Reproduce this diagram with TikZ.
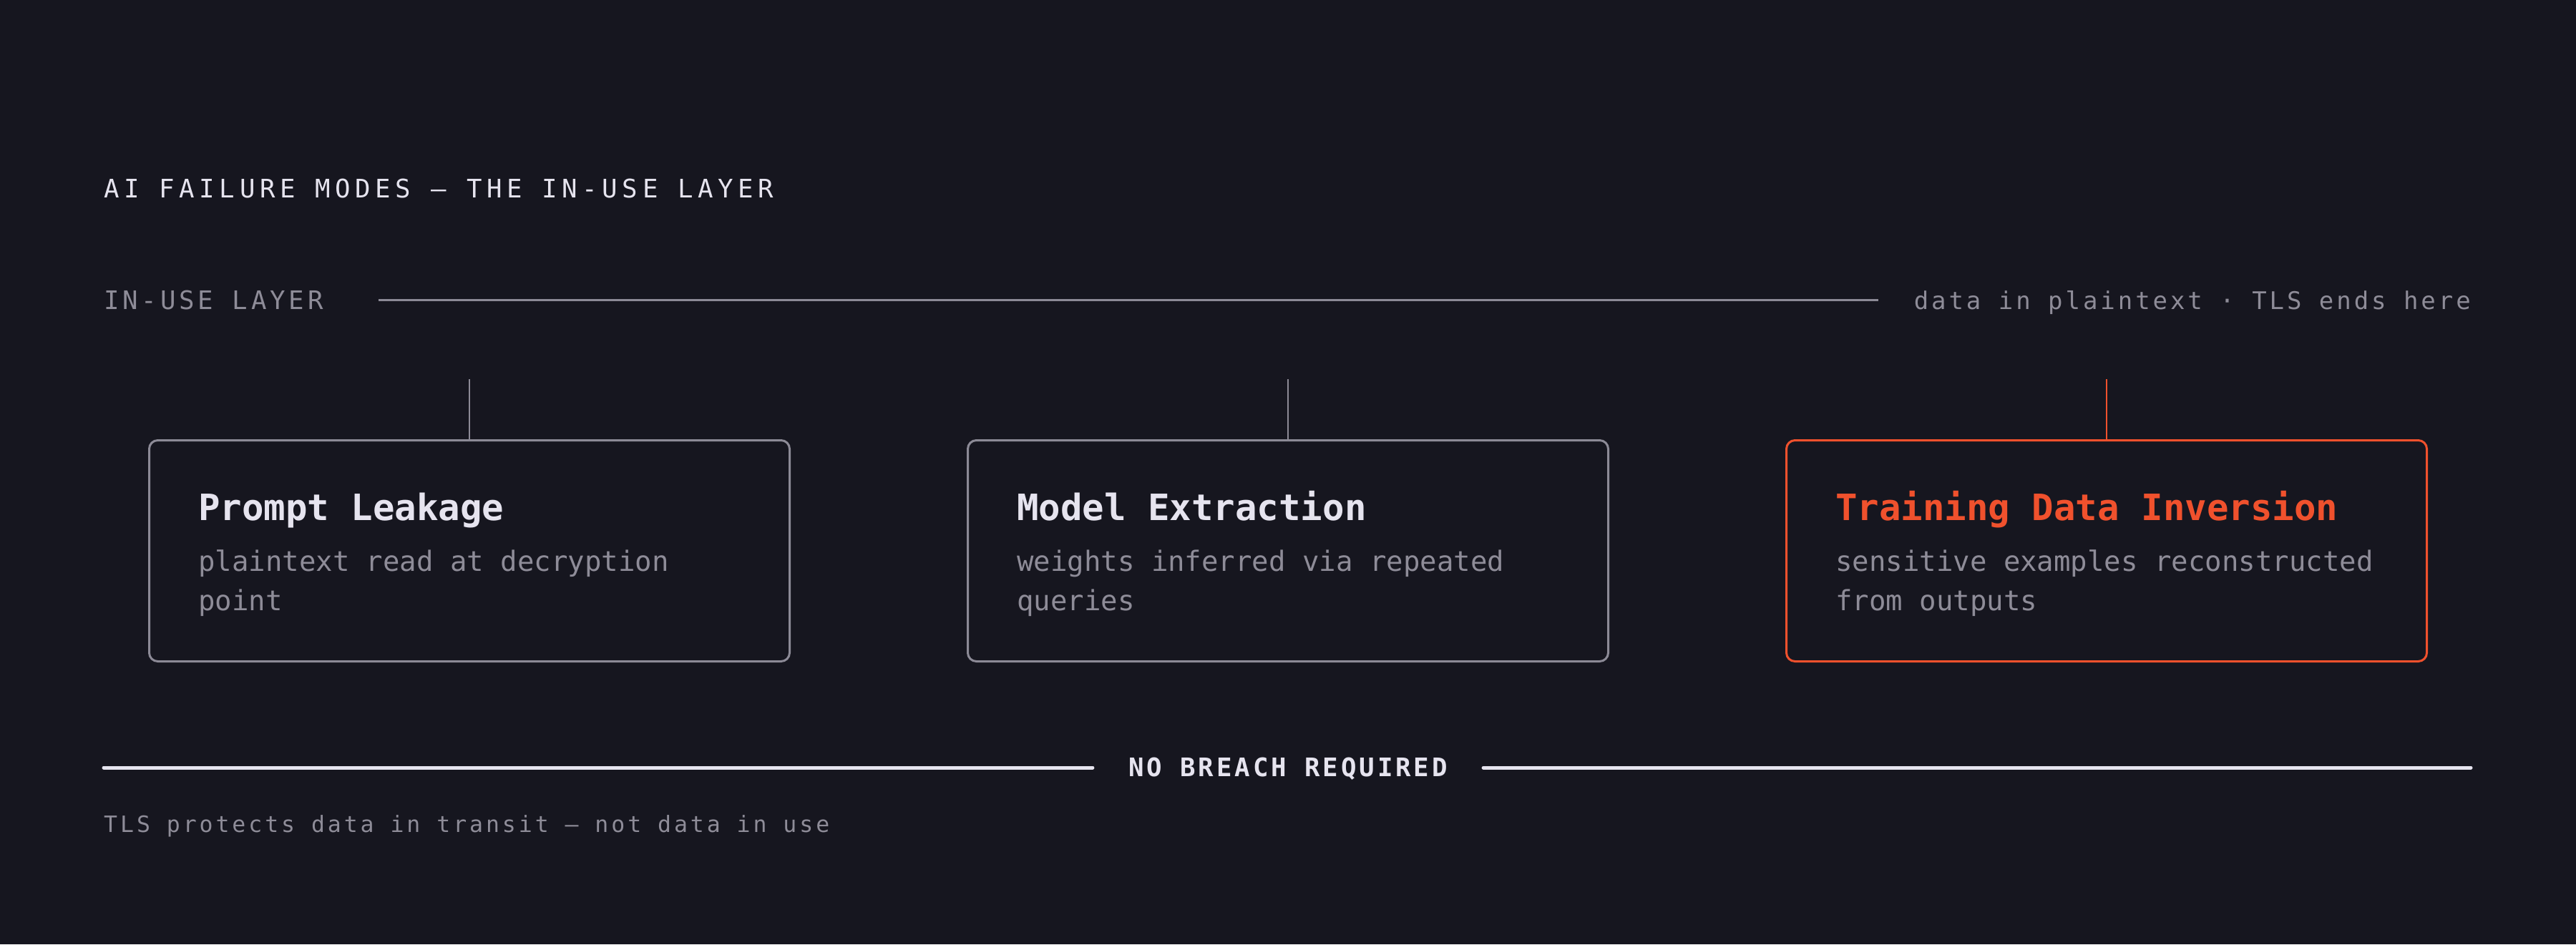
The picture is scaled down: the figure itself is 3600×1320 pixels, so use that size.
\documentclass[tikz,border=0pt]{standalone}
\usepackage{fontspec}
\setmonofont{DejaVu Sans Mono}
\usetikzlibrary{positioning}

\definecolor{bg}{HTML}{16161F}
\definecolor{ink}{HTML}{E6E4EF}
\definecolor{mute}{HTML}{8E8C98}
\definecolor{rule}{HTML}{8C8A96}
\definecolor{alert}{HTML}{F0512D}

\newfontfamily\headfont[LetterSpace=18.4]{DejaVu Sans Mono}
\newfontfamily\layerfont[LetterSpace=13.6]{DejaVu Sans Mono}
\newfontfamily\notefont[LetterSpace=11.6]{DejaVu Sans Mono}
\newfontfamily\breachfont[LetterSpace=11]{DejaVu Sans Mono}
\newfontfamily\capfont[LetterSpace=12.5]{DejaVu Sans Mono}

\begin{document}
\begin{tikzpicture}[x=1pt, y=-1pt, every node/.style={inner sep=0pt},
	modebox/.style={draw=rule, line width=3pt, rounded corners=12pt,
		minimum width=895pt, minimum height=309pt},
	modetitle/.style={anchor=base west, text=ink,
		font=\ttfamily\bfseries\fontsize{50.7}{60}\selectfont},
	modetext/.style={anchor=base west, text=mute, align=flush left, text width=800pt,
		font=\ttfamily\fontsize{39}{55}\selectfont},
	stub/.style={draw=rule, line width=2pt},
	heavy/.style={draw=ink, line width=5pt, line cap=round}]
	\fill[bg] (0,0) rectangle (3600,1320);
	% heading and layer rule
	\node[anchor=base west, text=ink, font=\headfont\fontsize{35.7}{43}\selectfont] (title) at (145,276) {AI FAILURE MODES — THE IN-USE LAYER};
	\node[anchor=base west, text=mute, font=\layerfont\fontsize{35.7}{43}\selectfont] (layer) at (145,432) {IN-USE LAYER};
	\node[anchor=base east, text=mute, font=\notefont\fontsize{34}{41}\selectfont] (plain) at (3453,432) {data in plaintext · TLS ends here};
	\draw[rule, line width=3pt] ([xshift=77pt]layer.east) -- ([xshift=-50pt]plain.west |- layer.east);
	% failure modes
	\node[modebox] (leak) at (656,770) {};
	\node[modebox] (extract) at (1800,770) {};
	\node[modebox, draw=alert] (inversion) at (2944,770) {};
	\node[modetitle] (leakT) at ([shift={(70,113)}]leak.north west) {Prompt Leakage};
	\node[modetext] (leakD) at ([shift={(70,184)}]leak.north west) {plaintext read at decryption\\point};
	\node[modetitle] (extractT) at ([shift={(70,113)}]extract.north west) {Model Extraction};
	\node[modetext] (extractD) at ([shift={(70,184)}]extract.north west) {weights inferred via repeated\\queries};
	\node[modetitle, text=alert] (inversionT) at ([shift={(70,113)}]inversion.north west) {Training Data Inversion};
	\node[modetext] (inversionD) at ([shift={(70,184)}]inversion.north west) {sensitive examples reconstructed\\from outputs};
	\foreach \b in {leak, extract, inversion}
	\coordinate (\b-top) at ([yshift=84pt]\b.north);
	\foreach \b in {leak, extract}
	\draw[stub] (\b-top) -- (\b.north);
	\draw[stub, draw=alert] (inversion-top) -- (inversion.north);
	% bottom rule
	\node[anchor=base, inner xsep=50pt, text=ink, font=\breachfont\bfseries\fontsize{35.7}{43}\selectfont] (breach) at (1800,1085) {NO BREACH REQUIRED};
	\coordinate (ruleL) at (145,1073);
	\coordinate (ruleR) at (3453,1073);
	\draw[heavy] (ruleL) -- (ruleL -| breach.west);
	\draw[heavy] (ruleR) -- (ruleR -| breach.east);
	\node[anchor=base west, text=mute, font=\capfont\fontsize{31.5}{38}\selectfont] (note) at (145,1163) {TLS protects data in transit — not data in use};
\end{tikzpicture}
\end{document}
